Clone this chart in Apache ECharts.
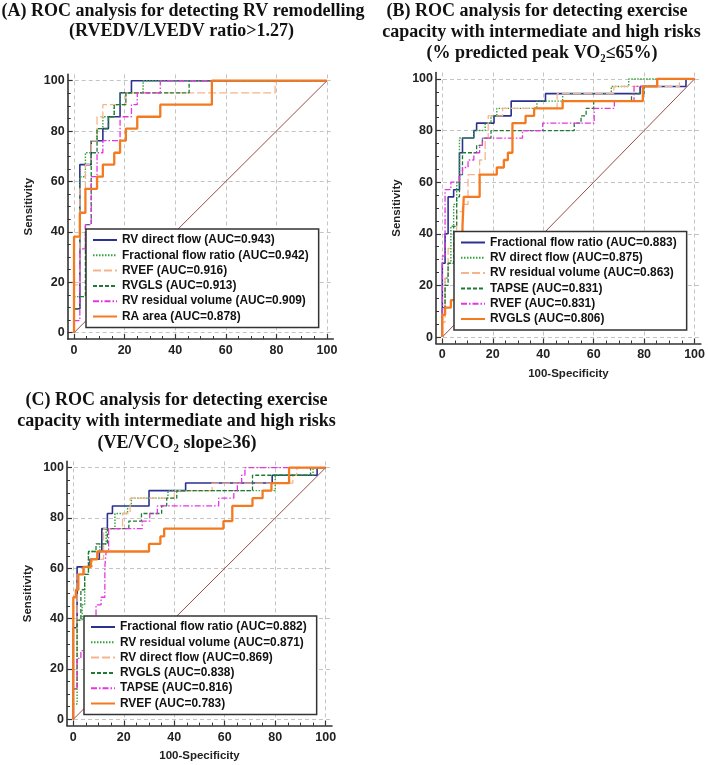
<!DOCTYPE html>
<html><head><meta charset="utf-8">
<script src="https://cdn.jsdelivr.net/npm/echarts@6/dist/echarts.min.js"></script>
<style>html,body{margin:0;padding:0;background:#fff}#c{width:708px;height:765px}</style>
</head><body><div id="c"></div>
<script>
// ---------- axis values ----------
const tickLabels = [0, 20, 40, 60, 80, 100];
const minorTicks = [5, 10, 15, 25, 30, 35, 45, 50, 55, 65, 70, 75, 85, 90, 95];
const diagonal = [[0, 0], [100, 100]];

// ---------- Panel A : corner points [100-Specificity, Sensitivity] ----------
const A_names = ['RV direct flow (AUC=0.943)', 'Fractional flow ratio (AUC=0.942)', 'RVEF (AUC=0.916)',
  'RVGLS (AUC=0.913)', 'RV residual volume (AUC=0.909)', 'RA area (AUC=0.878)'];
const A_rvDirect = [[0,0],[0,9.5],[2.3,66.7],[6.8,76.2],[11.4,81],[13.6,85.7],[18.2,95.2],[22.7,100],[100,100]];
const A_ffr = [[0,0],[0,14.3],[2.3,61.9],[4.5,71.4],[6.8,76.2],[9.1,81],[11.4,85.7],[15.9,90.5],[18.2,95.2],[27.3,100],[100,100]];
const A_rvef = [[0,0],[0,19],[2.3,57.1],[4.5,66.7],[6.8,76.2],[9.1,85.7],[11.4,90.5],[20.5,95.2],[79.5,100],[100,100]];
const A_rvgls = [[0,0],[0,9.5],[2.3,14.3],[4.5,42.9],[6.8,71.4],[9.1,81],[13.6,85.7],[15.9,90.5],[20.5,95.2],[45.5,100],[100,100]];
const A_rvResidual = [[0,0],[0,4.8],[2.3,33.3],[4.5,42.9],[6.8,61.9],[9.1,71.4],[11.4,76.2],[18.2,85.7],[22.7,90.5],[25,95.2],[34.1,100],[100,100]];
const A_raArea = [[0,0],[0,38.1],[2.3,47.6],[4.5,57.1],[9.1,61.9],[11.4,66.7],[15.9,71.4],[18.2,76.2],[20.5,81],[25,85.7],[34.1,90.5],[54.5,100],[100,100]];

// ---------- Panel B ----------
const B_names = ['Fractional flow ratio (AUC=0.883)', 'RV direct flow (AUC=0.875)', 'RV residual volume (AUC=0.863)',
  'TAPSE (AUC=0.831)', 'RVEF (AUC=0.831)', 'RVGLS (AUC=0.806)'];
const B_ffr = [[0,0],[0,28.6],[1.1,40],[2.3,54.3],[4.5,57.1],[6.8,71.4],[8,77.1],[12.5,80],[13.6,82.9],[20.5,85.7],[27.3,91.4],[40.9,94.3],[78.4,97.1],[96.6,100],[100,100]];
const B_rvDirect = [[0,0],[0,8.6],[1.1,22.9],[2.3,28.6],[3.4,42.9],[4.5,51.4],[5.7,60],[6.8,77.1],[12.5,80],[17,82.9],[19.3,85.7],[21.6,88.6],[37.5,91.4],[47.7,94.3],[67,97.1],[73.9,100],[100,100]];
const B_rvResidual = [[0,0],[0,5.7],[1.1,22.9],[2.3,34.3],[4.5,40],[5.7,48.6],[8,51.4],[10.2,62.9],[14.8,68.6],[17,77.1],[18.2,85.7],[23.9,88.6],[45.5,94.3],[68,97.1],[94,100],[100,100]];
const B_tapse = [[0,0],[0,11.4],[1.1,20],[2.3,28.6],[4.5,42.9],[5.7,54.3],[6.8,62.9],[8,71.4],[13.6,74.3],[15.9,77.1],[19.3,80],[52.3,82.9],[55,85.7],[57,88.6],[60,91.4],[75,94.3],[80,97.1],[85.2,100],[100,100]];
const B_rvef = [[0,0],[0,31.4],[1.1,57.1],[3.4,60],[6.8,62.9],[8,65.7],[10.2,68.6],[12.5,71.4],[14.8,74.3],[15.9,77.1],[31.8,80],[39.8,82.9],[60.2,88.6],[68.2,91.4],[76,97.1],[85,100],[100,100]];
const B_rvgls = [[0,0],[0,8.6],[1.1,11.4],[3.4,14.3],[5.7,40],[8,42.9],[8.5,54.3],[14.8,62.9],[21.6,65.7],[24.4,68.6],[26,71.4],[27.8,82.9],[33,85.7],[36.4,88.6],[47.7,91.4],[79.5,97.1],[85.2,100],[100,100]];

// ---------- Panel C ----------
const C_names = ['Fractional flow ratio (AUC=0.882)', 'RV residual volume (AUC=0.871)', 'RV direct flow (AUC=0.869)',
  'RVGLS (AUC=0.838)', 'TAPSE (AUC=0.816)', 'RVEF (AUC=0.783)'];
const C_ffr = [[0,0],[0,36.4],[1.5,60.6],[6.6,63.6],[10.3,66.7],[11.3,75.8],[13.5,81.8],[15.5,84.8],[30,90.9],[44.5,93.9],[78.8,97],[96.6,100],[100,100]];
const C_rvResidual = [[0,0],[0,6.1],[1.5,39.4],[3.5,45.5],[4.5,57.6],[6,66.7],[10.5,69.7],[13,75.8],[16.5,81.8],[21.5,84.8],[23,87.9],[37.5,90.9],[80,97],[95,100],[100,100]];
const C_rvDirect = [[0,0],[0,12.1],[1.5,57.6],[4.5,60.6],[7.5,63.6],[12,75.8],[19.5,81.8],[22.5,87.9],[40,90.9],[55,93.9],[87,97],[88.5,100],[100,100]];
const C_rvgls = [[0,0],[0,12.1],[1.5,39.4],[3,51.5],[4.5,57.6],[6,66.7],[9,69.7],[13.5,75.8],[22,78.8],[27,81.8],[35,84.8],[37,87.9],[41,90.9],[71,97],[94,100],[100,100]];
const C_tapse = [[0,0],[0,12.1],[1.5,24.2],[3,27.3],[6,39.4],[9,45.5],[11,48.5],[12.5,60.6],[13,66.7],[14,75.8],[27.3,78.8],[30.3,81.8],[33.3,84.8],[57.6,87.9],[63.6,90.9],[65,93.9],[66.7,97],[68,100],[100,100]];
const C_rvef = [[0,0],[0,48.5],[1,51.5],[2,57.6],[4,60.6],[7,63.6],[9.5,66.7],[30,69.7],[34.5,72.7],[36,75.8],[59.5,78.8],[63,84.8],[71,87.9],[75,90.9],[78.5,93.9],[85.5,100],[100,100]];

// ---------- styles (by legend order) ----------
const styles = [
  {color:'#2B3190', width:1.6, type:'solid'},
  {color:'#33A33A', width:1.4, type:[1.5,1.5]},
  {color:'#F7B48C', width:1.3, type:[8,3]},
  {color:'#1E7A36', width:1.3, type:[4,2]},
  {color:'#E535E2', width:1.3, type:[6,2,1.5,2]},
  {color:'#F47A20', width:2.3, type:'solid'}
];

const panels = [
  {names:A_names, data:[A_rvDirect,A_ffr,A_rvef,A_rvgls,A_rvResidual,A_raArea],
   grid:{left:67.7, top:74.4, width:265.6, height:264.6}, legend:{left:86, top:229}, xName:''},
  {names:B_names, data:[B_ffr,B_rvDirect,B_rvResidual,B_tapse,B_rvef,B_rvgls],
   grid:{left:436, top:72.5, width:265, height:271}, legend:{left:454, top:231.5}, xName:'100-Specificity'},
  {names:C_names, data:[C_ffr,C_rvResidual,C_rvDirect,C_rvgls,C_tapse,C_rvef],
   grid:{left:67, top:461.4, width:265, height:264.2}, legend:{left:84, top:616}, xName:'100-Specificity'}
];

const axisColor = '#333';
const labelFont = {fontFamily:'Liberation Sans', fontWeight:'bold', fontSize:12.5, color:'#222'};
const grids = [], xAxes = [], yAxes = [], series = [], legends = [];

function mainAxis(g, isX, name) {
  return {
    type:'value', gridIndex:g, min:-2.5, max:102.5,
    position: isX ? 'bottom' : 'left',
    name: name, nameLocation:'middle', nameGap: isX ? 24 : 33,
    nameTextStyle:{fontFamily:'Liberation Sans', fontWeight:'bold', fontSize:11.5, color:'#222'},
    axisLine:{show:true, onZero:false, lineStyle:{color:axisColor, width:1.6}},
    axisTick:{show:true, inside:true, length:5, customValues:tickLabels, lineStyle:{color:axisColor, width:1.2}},
    axisLabel:Object.assign({customValues:tickLabels, margin: isX ? 5 : 3}, labelFont),
    splitLine:{show:true, lineStyle:{color:'#c4c4c4', width:1, type:[4,3]}}
  };
}
function minorAxis(g, isX) {
  return {
    type:'value', gridIndex:g, min:-2.5, max:102.5,
    position: isX ? 'bottom' : 'left',
    axisLine:{show:false, onZero:false},
    axisTick:{show:true, inside:true, length:3, customValues:minorTicks, lineStyle:{color:axisColor, width:1}},
    axisLabel:{show:false}, splitLine:{show:false}
  };
}

panels.forEach((p, g) => {
  grids.push(Object.assign({containLabel:false}, p.grid));
  xAxes.push(mainAxis(g, true, p.xName)); xAxes.push(minorAxis(g, true));
  yAxes.push(mainAxis(g, false, 'Sensitivity')); yAxes.push(minorAxis(g, false));
  series.push({type:'line', name:'ref'+g, xAxisIndex:2*g, yAxisIndex:2*g, data:diagonal, symbol:'none',
    lineStyle:{color:'#9A4B4B', width:1}, silent:true, z:2});
  p.data.forEach((d, i) => {
    series.push({type:'line', name:p.names[i], xAxisIndex:2*g, yAxisIndex:2*g, data:d, step:'end',
      symbol:'none', showSymbol:false, lineStyle:Object.assign({}, styles[i]), itemStyle:{color:styles[i].color},
      silent:true, z:3+i});
  });
  legends.push({
    data:p.names, orient:'vertical', left:p.legend.left, top:p.legend.top,
    itemWidth:24, itemHeight:12, itemGap:3.3, padding:[5,10,5,6],
    backgroundColor:'#fff', borderColor:'#333', borderWidth:1.5, borderRadius:0,
    selectedMode:false, z:10,
    itemStyle:{opacity:0, borderWidth:0},
    textStyle:{fontFamily:'Liberation Sans', fontWeight:'bold', fontSize:11.9, color:'#111', lineHeight:12}
  });
});

const titleLines = [
  ['(A) ROC analysis for detecting RV remodelling', 183, 11.7],
  ['(RVEDV/LVEDV ratio>1.27)', 181.5, 31.7],
  ['(B) ROC analysis for detecting exercise', 537, 11.7],
  ['capacity with intermediate and high risks', 541.5, 32.2],
  ['(% predicted peak VO\u2082\u226465%)', 542, 53],
  ['(C) ROC analysis for detecting exercise', 176.5, 400],
  ['capacity with intermediate and high risks', 176.5, 421.7],
  ['(VE/VCO\u2082 slope\u226536)', 177, 443.3]
];
const graphics = titleLines.map(t => ({
  type:'text', x:t[1], y:t[2], silent:true,
  style:{text:t[0], textAlign:'center', textVerticalAlign:'middle',
    font:'bold 18px "Liberation Serif", "Times New Roman", serif', fill:'#111'}
}));

const chart = echarts.init(document.getElementById('c'), null, {renderer:'canvas'});
chart.setOption({
  animation:false, backgroundColor:'#fff',
  grid:grids, xAxis:xAxes, yAxis:yAxes, series:series, legend:legends, graphic:graphics
});
</script></body></html>
